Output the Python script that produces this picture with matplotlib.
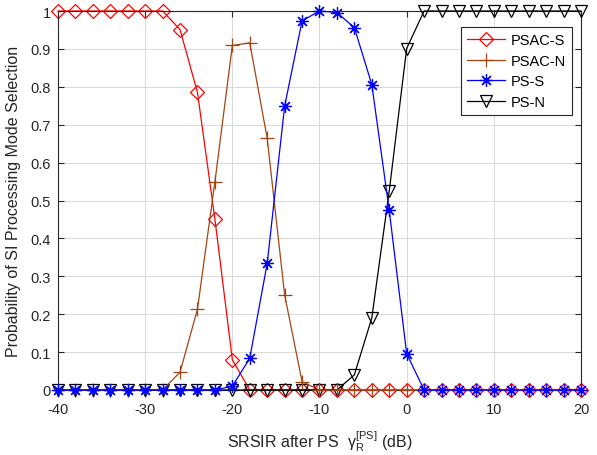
import matplotlib
matplotlib.use("Agg")
import matplotlib.pyplot as plt

plt.rcParams['font.family'] = ['Liberation Sans', 'DejaVu Sans']
plt.rcParams['mathtext.fontset'] = 'custom'
plt.rcParams['mathtext.rm'] = 'Liberation Sans'
plt.rcParams['mathtext.it'] = 'Liberation Sans:italic'
plt.rcParams['axes.unicode_minus'] = False

snr = list(range(-40, 21, 2))

psac_s = [1, 1, 1, 1, 1, 1, 1, 0.951, 0.785, 0.451, 0.080,
          0, 0, 0, 0, 0, 0, 0, 0, 0, 0, 0, 0, 0, 0, 0, 0, 0, 0, 0, 0]
psac_n = [0, 0, 0, 0, 0, 0, 0, 0.047, 0.213, 0.549, 0.909, 0.916, 0.664, 0.251, 0.022,
          0, 0, 0, 0, 0, 0, 0, 0, 0, 0, 0, 0, 0, 0, 0, 0]
ps_s = [0, 0, 0, 0, 0, 0, 0, 0, 0, 0, 0.010, 0.084, 0.334, 0.749, 0.974, 1.0, 0.996,
        0.956, 0.806, 0.474, 0.096, 0, 0, 0, 0, 0, 0, 0, 0, 0, 0]
ps_n = [0, 0, 0, 0, 0, 0, 0, 0, 0, 0, 0, 0, 0, 0, 0, 0, 0, 0.040, 0.190, 0.525, 0.901,
        1, 1, 1, 1, 1, 1, 1, 1, 1, 1]

brown = (0.64, 0.27, 0.07)
ink = (0.15, 0.15, 0.15)
asterisk = (8, 2, 0)

fig = plt.figure(figsize=(5.97, 4.56), dpi=100)
ax = fig.add_axes([58 / 597, 1 - 391 / 456, (581 - 58) / 597, (391 - 12) / 456])

h1, = ax.plot(snr, psac_s, color='red', lw=0.9, marker='D', ms=7.5, mfc='none', mew=0.9,
              zorder=2, clip_on=False, label='PSAC-S')
h4, = ax.plot(snr, ps_n, color='black', lw=0.9, marker='v', ms=8.5, mfc='none', mew=0.9,
              zorder=3, clip_on=False, label='PS-N')
h2, = ax.plot(snr, psac_n, color=brown, lw=0.9, marker='+', ms=10, mew=0.9,
              zorder=4, clip_on=False, label='PSAC-N')
h3, = ax.plot(snr, ps_s, color='blue', lw=0.9, marker=asterisk, ms=9, mew=0.9,
              zorder=5, clip_on=False, label='PS-S')

ax.set_xlim(-40, 20)
ax.set_ylim(0, 1)
ax.set_xticks(range(-40, 21, 10))
ax.set_yticks([i / 10 for i in range(11)])
ax.set_yticklabels(['0'] + [f'{i / 10:g}' for i in range(1, 11)])
ax.grid(True, color=(0.86, 0.86, 0.86), lw=0.8)
ax.set_axisbelow(True)
ax.tick_params(direction='in', length=4, colors=ink, labelsize=10.5, top=True, right=True)
ax.tick_params(axis='x', pad=9)
ax.tick_params(axis='y', pad=5)
for s in ax.spines.values():
    s.set_color(ink)
    s.set_linewidth(0.8)

ax.set_xlabel(r'SRSIR after PS  $\mathrm{\gamma}_{\mathrm{R}}^{[\mathrm{PS}]}$ (dB)', fontsize=11.5,
              color=ink, labelpad=8)
ax.set_ylabel('Probability of SI Processing Mode Selection', fontsize=11.5, color=ink,
              labelpad=7)

leg = ax.legend(handles=[h1, h2, h3, h4], loc='upper right', bbox_to_anchor=(0.983, 0.957),
                borderaxespad=0, fontsize=10.5, fancybox=False, framealpha=1, edgecolor=ink,
                handlelength=2.6, borderpad=0.4, labelspacing=0.45, handletextpad=0.4)
leg.get_frame().set_linewidth(0.8)

fig.savefig('out.png', dpi=100)
